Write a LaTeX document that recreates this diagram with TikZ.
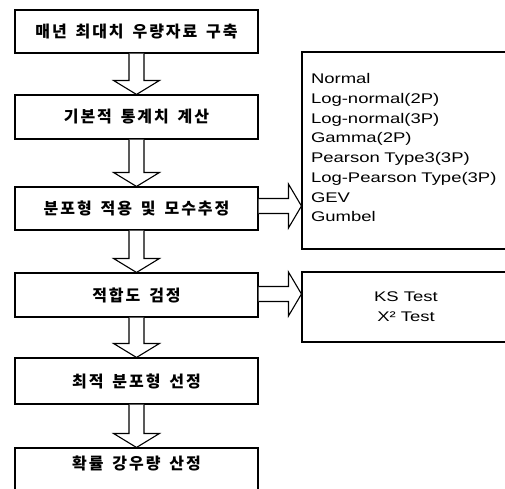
\documentclass[tikz,border=0pt]{standalone}
\usepackage{fontspec}
\newfontfamily\krfont[WordSpace=1.6, LetterSpace=12]{Noto Sans CJK KR}
\newfontfamily\lafont[FakeStretch=1.32]{Liberation Sans}
\usetikzlibrary{calc}
\tikzset{
  kfont/.style={font=\krfont\bfseries\fontsize{16}{18}\selectfont},
  lbox/.style={draw, line width=1.1pt, minimum width=243pt, minimum height=43pt, inner sep=0pt, kfont},
  rbox/.style={draw, line width=1.1pt, minimum width=208pt, inner sep=0pt},
  ltext/.style={font=\lafont\fontsize{14}{19.7}\selectfont},
  hol/.style={draw, line width=1.1pt, line join=miter, fill=white},
}
\newcommand\harrowdown[2]{%
  \draw[hol] ($(#1.south)+(-7.5,0)$) -- ($(#2.north)+(-7.5,-14)$) -- ($(#2.north)+(-23,-14)$)
    -- (#2.north) -- ($(#2.north)+(23,-14)$) -- ($(#2.north)+(7.5,-14)$) -- ($(#1.south)+(7.5,0)$);}
\newcommand\harrowright[3]{%
  \coordinate (s#1) at ($(#1.east)+(0,#3)$);
  \coordinate (t#1) at (#2.west |- s#1);
  \draw[hol] ($(s#1)+(0,-7.5)$) -- ($(t#1)+(-13,-7.5)$) -- ($(t#1)+(-13,-22)$)
    -- (t#1) -- ($(t#1)+(-13,22)$) -- ($(t#1)+(-13,7.5)$) -- ($(s#1)+(0,7.5)$);}
\begin{document}
\begin{tikzpicture}[x=1pt,y=-1pt]
\useasboundingbox (0,0) rectangle (505,488);
\clip (0,0) rectangle (505,488);
\fill[white] (0,0) rectangle (505,488);
\node[lbox] (b1) at (136.5,31.5) {매년 최대치 우량자료 구축};
\node[lbox, minimum height=44pt] (b2) at (136.5,117) {기본적 통계치 계산};
\node[lbox] (b3) at (136.5,208.5) {분포형 적용 및 모수추정};
\node[lbox, minimum height=44pt] (b4) at (136.5,295) {적합도 검정};
\node[lbox, minimum height=46pt] (b5) at (136.5,381) {최적 분포형 선정};
\node[lbox, minimum height=44pt] (b6) at (136.5,470) {};
\node[kfont, inner sep=0pt] (t6) at (136.5,463) {확률 강우량 산정};
\node[rbox, minimum height=197pt, ltext, align=left, text width=190pt] (r1) at (406,150.5)
  {\\[-15pt]Normal\\Log-normal(2P)\\Log-normal(3P)\\Gamma(2P)\\Pearson Type3(3P)\\Log-Pearson Type(3P)\\GEV\\Gumbel};
\node[rbox, minimum height=70pt, ltext, align=center] (r2) at (406,307)
  {KS Test\\X² Test};
\harrowdown{b1}{b2}
\harrowdown{b2}{b3}
\harrowdown{b3}{b4}
\harrowdown{b4}{b5}
\harrowdown{b5}{b6}
\harrowright{b3}{r1}{-2.5}
\harrowright{b4}{r2}{-1}
\end{tikzpicture}
\end{document}
